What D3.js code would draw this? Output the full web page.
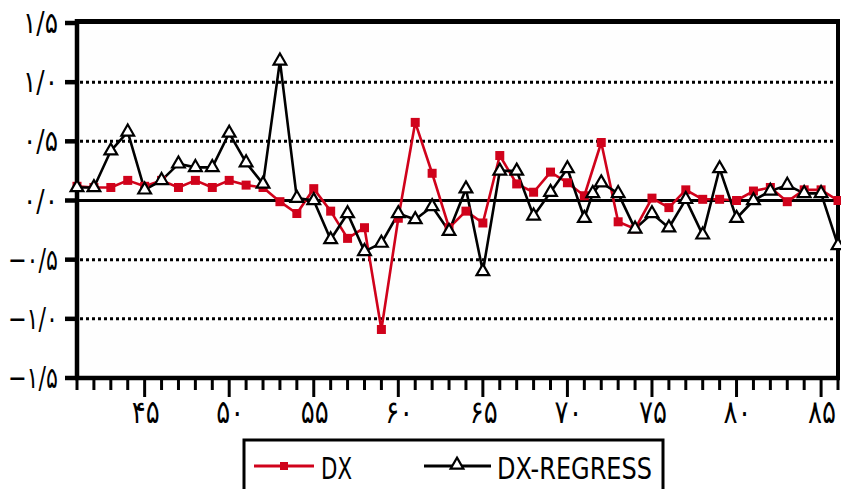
<!DOCTYPE html>
<html>
<head>
<meta charset="utf-8">
<script src="https://cdn.jsdelivr.net/npm/d3@7"></script>
<style>
  body { margin: 0; background: #fff; }
  svg { display: block; }
</style>
</head>
<body>
<svg id="chart" width="841" height="489"></svg>
<script>
// --- data ---
const dxX = [41,42,43,44,45,46,47,48,49,50,51,52,53,54,55,56,57,58,59,60,61,62,63,64,65,
             66,67,68,69,70,71,72,73,74,75,76,77,78,79,80,81,82,83,84,85,86];
const dxY = [0.12,0.11,0.11,0.17,0.12,0.17,0.11,0.17,0.11,0.17,0.13,0.11,-0.01,-0.11,0.10,
             -0.09,-0.32,-0.23,-1.09,-0.15,0.66,0.23,-0.23,-0.09,-0.19,
             0.38,0.14,0.07,0.24,0.15,0.04,0.49,-0.18,-0.24,0.02,-0.06,0.09,0.01,0.01,0.00,
             0.08,0.11,-0.01,0.09,0.09,0.00];

const regX = [41,42,43,44,45,46,47,48,49,50,51,52,53,54,55,56,57,58,59,60,61,62,63,64,65,
              66,67,68,69,70,71,71.5,72,73,74,75,76,77,78,79,80,81,82,83,84,85,86];
const regY = [0.11,0.11,0.42,0.58,0.09,0.17,0.31,0.28,0.28,0.57,0.32,0.14,1.18,0.02,0.00,
              -0.33,-0.11,-0.43,-0.36,-0.11,-0.16,-0.05,-0.26,0.10,-0.60,
              0.25,0.25,-0.13,0.07,0.27,-0.15,0.06,0.15,0.06,-0.24,-0.11,-0.23,0.01,-0.29,0.27,
              -0.15,0.00,0.08,0.13,0.06,0.06,-0.38];

const yTicks  = [-1.5, -1, -0.5, 0, 0.5, 1, 1.5];
const yLabels = ['−۱/۵', '−۱/۰', '−۰/۵', '۰/۰', '۰/۵', '۱/۰', '۱/۵'];
const gridVals = [-1, -0.5, 0.5, 1];
const xMinor = [41,42,43,44,45,46,47,48,49,50,51,52,53,54,55,56,57,58,59,60,61,62,63,64,65,
                66,67,68,69,70,71,72,73,74,75,76,77,78,79,80,81,82,83,84,85,86];
const xMajor  = [45, 50, 55, 60, 65, 70, 75, 80, 85];
const xLabels = ['۴۵', '۵۰', '۵۵', '۶۰', '۶۵', '۷۰', '۷۵', '۸۰', '۸۵'];
const seriesNames = ['DX', 'DX-REGRESS'];

const RED = '#d0021b';
const FONT = "'DejaVu Sans Condensed', 'DejaVu Sans', sans-serif";
const NARROW = "'Liberation Sans Narrow', 'DejaVu Sans Condensed', sans-serif";

const svg = d3.select('#chart');
const L = 77, R = 838, T = 23, B = 378;

const x = d3.scaleLinear().domain([41, 86]).range([L, R]);
const y = d3.scaleLinear().domain([-1.5, 1.5]).range([B, T]);

// plot background
svg.append('rect').attr('x', L).attr('y', T).attr('width', R - L).attr('height', B - T)
  .attr('fill', '#fefefe');

// dotted grid
svg.append('g').selectAll('line').data(gridVals).join('line')
  .attr('x1', L + 3).attr('x2', R - 3)
  .attr('y1', d => y(d)).attr('y2', d => y(d))
  .attr('stroke', '#000').attr('stroke-width', 3).attr('stroke-dasharray', '3,3');

// zero line
svg.append('line').attr('x1', L).attr('x2', R).attr('y1', y(0)).attr('y2', y(0))
  .attr('stroke', '#000').attr('stroke-width', 3);

// frame: top + right borders
svg.append('line').attr('x1', L).attr('x2', R + 2).attr('y1', T - 1.5).attr('y2', T - 1.5)
  .attr('stroke', '#000').attr('stroke-width', 5);
svg.append('line').attr('x1', R).attr('x2', R).attr('y1', T - 1.5).attr('y2', B)
  .attr('stroke', '#000').attr('stroke-width', 4);

// y axis
svg.append('line').attr('x1', L).attr('x2', L).attr('y1', T - 4).attr('y2', B + 2)
  .attr('stroke', '#000').attr('stroke-width', 4.5);
svg.append('g').selectAll('line').data(yTicks).join('line')
  .attr('x1', L - 12).attr('x2', L)
  .attr('y1', d => y(d)).attr('y2', d => y(d))
  .attr('stroke', '#000').attr('stroke-width', 4.5);
svg.append('g').selectAll('text').data(yTicks).join('text')
  .attr('x', 58).attr('y', d => y(d) + 10)
  .attr('text-anchor', 'end')
  .attr('font-family', FONT).attr('font-size', 30)
  .attr('textLength', d => d < 0 ? 50 : 35).attr('lengthAdjust', 'spacingAndGlyphs')
  .text((d, i) => yLabels[i]);

// x axis
svg.append('line').attr('x1', L - 2).attr('x2', R + 2).attr('y1', B).attr('y2', B)
  .attr('stroke', '#000').attr('stroke-width', 4.5);
svg.append('g').selectAll('line').data(xMinor).join('line')
  .attr('x1', d => x(d)).attr('x2', d => x(d))
  .attr('y1', B).attr('y2', d => xMajor.includes(d) ? B + 19 : B + 12)
  .attr('stroke', '#000').attr('stroke-width', 3);
svg.append('g').selectAll('text').data(xMajor).join('text')
  .attr('x', d => x(d) + 1).attr('y', 423)
  .attr('text-anchor', 'middle')
  .attr('font-family', FONT).attr('font-size', 32)
  .attr('textLength', 28).attr('lengthAdjust', 'spacingAndGlyphs')
  .text((d, i) => xLabels[i]);

// series
const dxPts  = dxX.map((v, i) => [v, dxY[i]]);
const regPts = regX.map((v, i) => [v, regY[i]]);
const line = d3.line().x(d => x(d[0])).y(d => y(d[1]));

svg.append('path').datum(dxPts).attr('d', line)
  .attr('fill', 'none').attr('stroke', RED).attr('stroke-width', 2.6).attr('stroke-linejoin', 'round');
svg.append('path').datum(regPts).attr('d', line)
  .attr('fill', 'none').attr('stroke', '#000').attr('stroke-width', 2.6).attr('stroke-linejoin', 'round');

svg.append('g').selectAll('rect').data(dxPts).join('rect')
  .attr('x', d => x(d[0]) - 4.5).attr('y', d => y(d[1]) - 4.5)
  .attr('width', 9).attr('height', 9).attr('fill', RED);

const tri = d3.symbol().type(d3.symbolTriangle).size(70);
svg.append('g').selectAll('path').data(regPts).join('path')
  .attr('d', tri)
  .attr('transform', d => `translate(${x(d[0])},${y(d[1])})`)
  .attr('fill', '#fff').attr('stroke', '#000').attr('stroke-width', 2.2);

// legend
const lg = svg.append('g');
lg.append('rect').attr('x', 244).attr('y', 440).attr('width', 419).attr('height', 70)
  .attr('fill', '#fff').attr('stroke', '#000').attr('stroke-width', 3);
lg.append('line').attr('x1', 254).attr('x2', 314).attr('y1', 466).attr('y2', 466)
  .attr('stroke', RED).attr('stroke-width', 3);
lg.append('rect').attr('x', 280).attr('y', 462).attr('width', 8).attr('height', 8).attr('fill', RED);
lg.append('text').attr('x', 321).attr('y', 479)
  .attr('font-family', NARROW).attr('font-size', 31)
  .attr('textLength', 31).attr('lengthAdjust', 'spacingAndGlyphs')
  .text(seriesNames[0]);
lg.append('line').attr('x1', 424).attr('x2', 491).attr('y1', 466).attr('y2', 466)
  .attr('stroke', '#000').attr('stroke-width', 3);
lg.append('path').attr('d', tri).attr('transform', 'translate(457,465)')
  .attr('fill', '#fff').attr('stroke', '#000').attr('stroke-width', 2.2);
lg.append('text').attr('x', 497).attr('y', 479)
  .attr('font-family', NARROW).attr('font-size', 31)
  .attr('textLength', 155).attr('lengthAdjust', 'spacingAndGlyphs')
  .text(seriesNames[1]);
</script>
</body>
</html>
